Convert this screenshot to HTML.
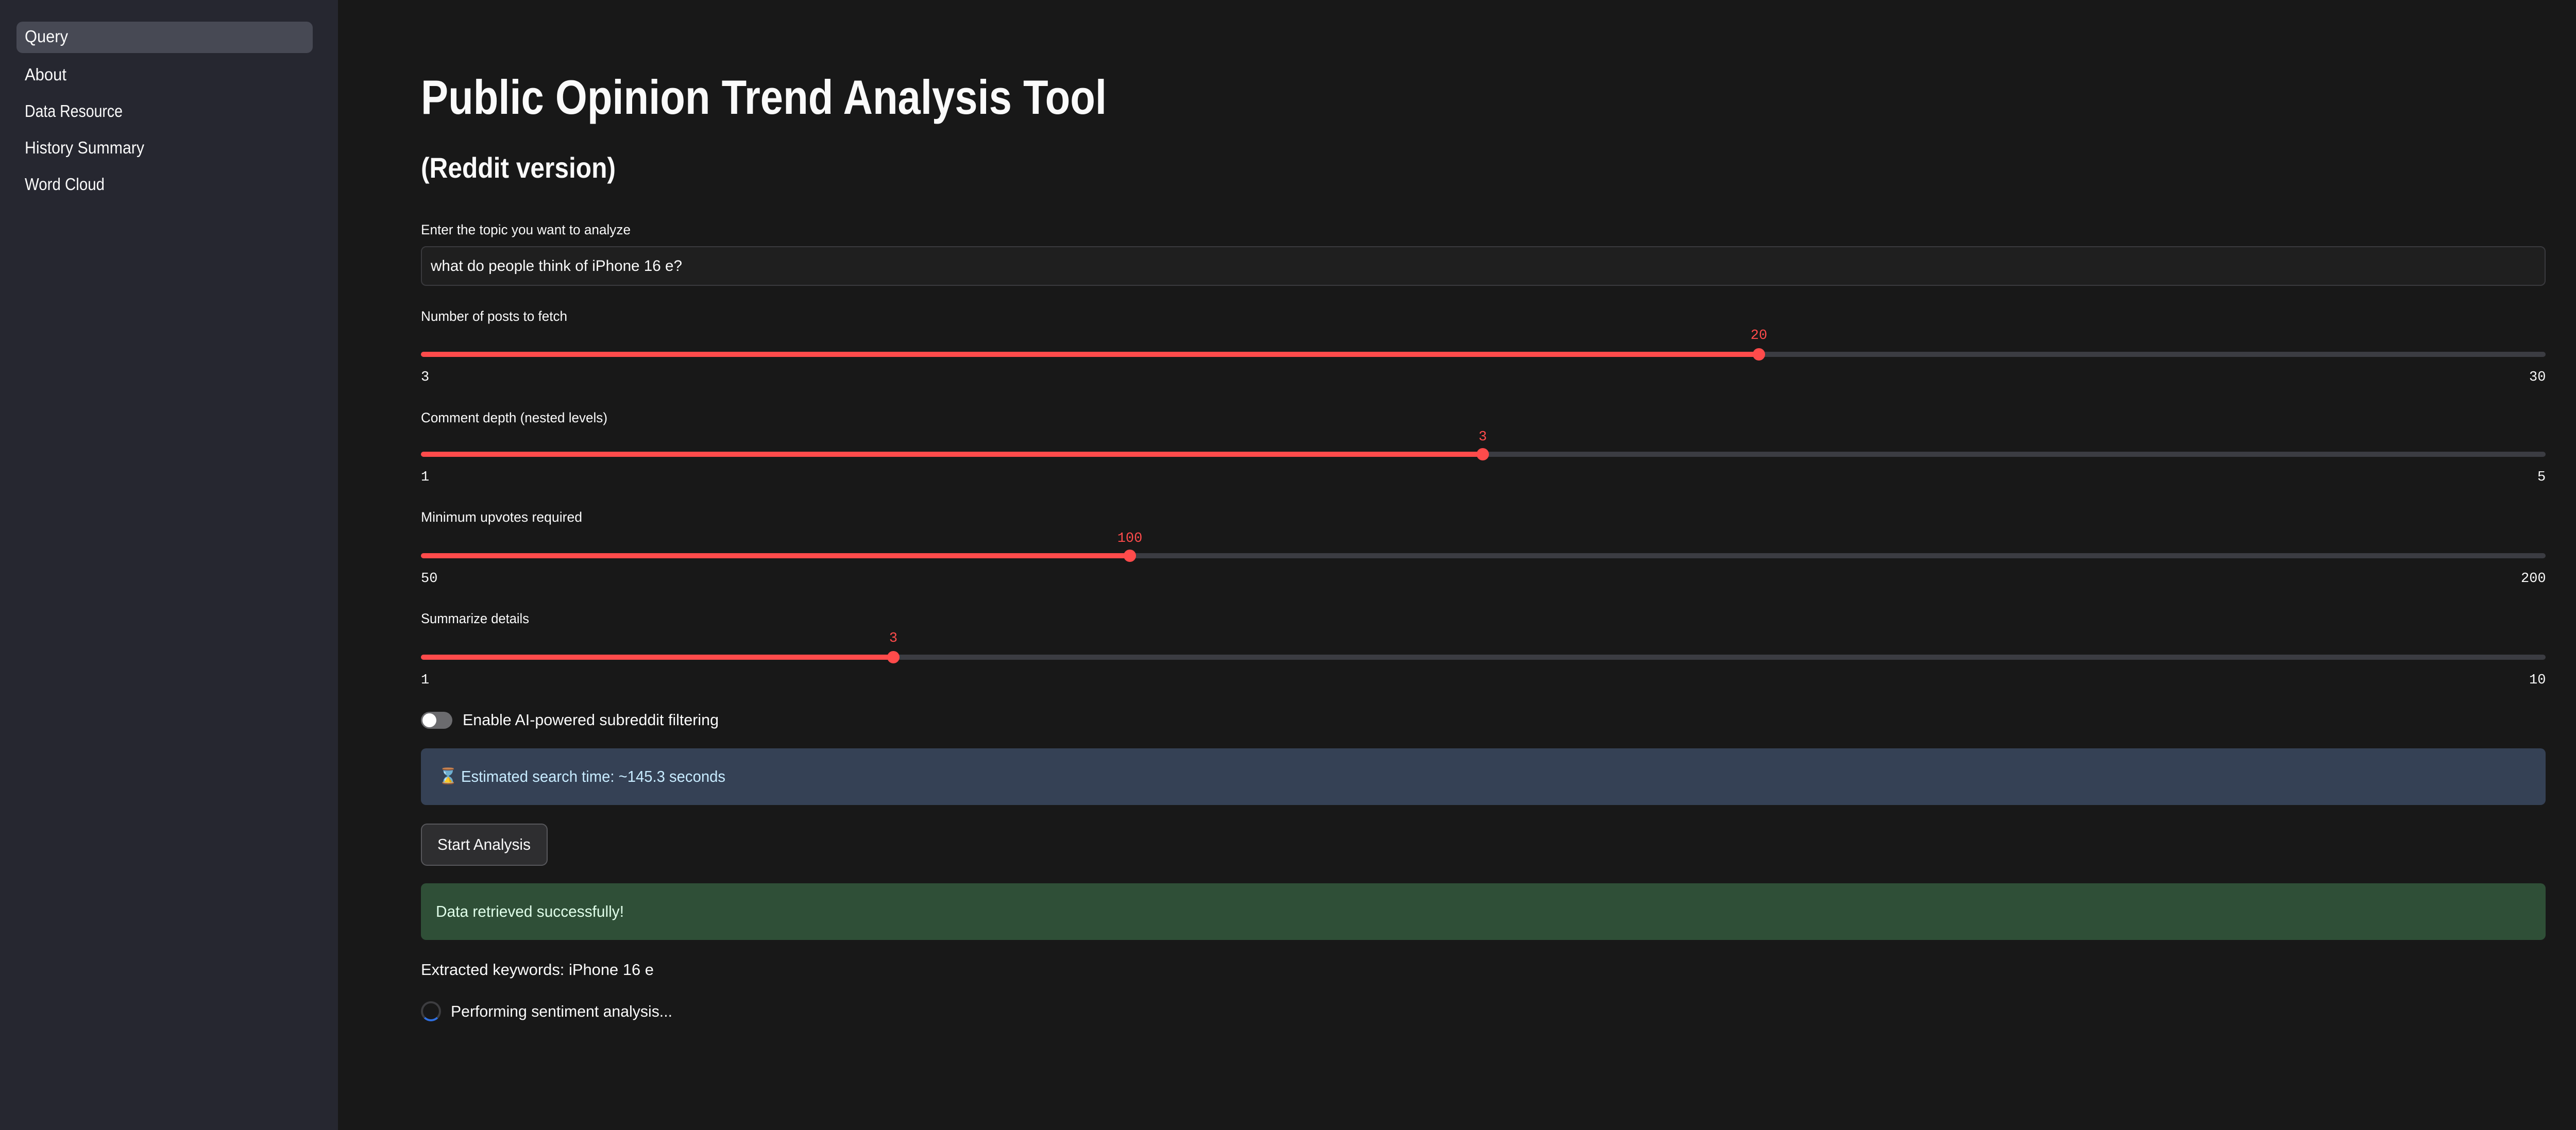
<!DOCTYPE html>
<html><head><meta charset="utf-8"><style>
html,body{margin:0;padding:0;}
body{width:5064px;height:2194px;background:#181818;position:relative;overflow:hidden;font-family:"Liberation Sans",sans-serif;color:#fafafa;}
.a{position:absolute;white-space:nowrap;}
.t{display:inline-block;transform-origin:0 50%;}
#sidebar{position:absolute;left:0;top:0;width:656px;height:2194px;background:#262730;}
.nav{position:absolute;left:48px;height:50px;line-height:50px;font-size:33px;color:#fafafa;}
.lbl{font-size:27px;height:40px;line-height:40px;color:#fafafa;}
.track{position:absolute;height:10px;border-radius:5px;background:#3b3c42;left:817px;width:4124px;}
.fill{position:absolute;left:0;top:0;height:10px;border-radius:5px;background:#ff4b4b;}
.thumb{position:absolute;width:24px;height:24px;border-radius:50%;background:#ff4b4b;top:-7px;margin-left:-12px;}
.mono{font-family:"Liberation Mono",monospace;font-size:27px;height:36px;line-height:36px;}
.red{color:#ff4b4b;}
</style></head><body>
<div id="sidebar">
  <div class="a" style="left:32px;top:42px;width:575px;height:61px;background:#474954;border-radius:12px;"></div>
  <div class="nav a" style="top:46px;"><span class="t" data-tw="84">Query</span></div>
  <div class="nav a" style="top:120px;"><span class="t" data-tw="81">About</span></div>
  <div class="nav a" style="top:191px;"><span class="t" data-tw="190">Data Resource</span></div>
  <div class="nav a" style="top:262px;"><span class="t" data-tw="232">History Summary</span></div>
  <div class="nav a" style="top:333px;"><span class="t" data-tw="155">Word Cloud</span></div>
</div>

<div class="a" style="left:817px;top:134px;height:110px;line-height:110px;font-size:94px;font-weight:bold;"><span class="t" data-tw="1331">Public Opinion Trend Analysis Tool</span></div>
<div class="a" style="left:817px;top:291px;height:70px;line-height:70px;font-size:56px;font-weight:bold;"><span class="t" data-tw="378">(Reddit version)</span></div>

<div class="a lbl" style="left:817px;top:426px;"><span class="t" data-tw="407">Enter the topic you want to analyze</span></div>
<div class="a" style="left:817px;top:478px;width:4120px;height:73px;background:#1f1f1f;border:2px solid #3a3a3e;border-radius:10px;"></div>
<div class="a" style="left:836px;top:497px;height:40px;line-height:40px;font-size:30px;"><span class="t" data-tw="488">what do people think of iPhone 16 e?</span></div>

<!-- slider 1 -->
<div class="a lbl" style="left:817px;top:594px;"><span class="t" data-tw="284">Number of posts to fetch</span></div>
<div class="track" style="top:683px;"><div class="fill" style="width:2597px;"></div><div class="thumb" style="left:2597px;"></div></div>
<div class="a mono red" style="left:3414px;top:634px;transform:translateX(-50%);">20</div>
<div class="a mono" style="left:817px;top:715px;">3</div>
<div class="a mono" style="left:4909px;top:715px;">30</div>

<!-- slider 2 -->
<div class="a lbl" style="left:817px;top:791px;"><span class="t" data-tw="362">Comment depth (nested levels)</span></div>
<div class="track" style="top:877px;"><div class="fill" style="width:2061px;"></div><div class="thumb" style="left:2061px;"></div></div>
<div class="a mono red" style="left:2878px;top:831px;transform:translateX(-50%);">3</div>
<div class="a mono" style="left:817px;top:909px;">1</div>
<div class="a mono" style="left:4925px;top:909px;">5</div>

<!-- slider 3 -->
<div class="a lbl" style="left:817px;top:984px;"><span class="t" data-tw="313">Minimum upvotes required</span></div>
<div class="track" style="top:1074px;"><div class="fill" style="width:1376px;"></div><div class="thumb" style="left:1376px;"></div></div>
<div class="a mono red" style="left:2193px;top:1028px;transform:translateX(-50%);">100</div>
<div class="a mono" style="left:817px;top:1106px;">50</div>
<div class="a mono" style="left:4893px;top:1106px;">200</div>

<!-- slider 4 -->
<div class="a lbl" style="left:817px;top:1181px;"><span class="t" data-tw="210">Summarize details</span></div>
<div class="track" style="top:1271px;"><div class="fill" style="width:917px;"></div><div class="thumb" style="left:917px;"></div></div>
<div class="a mono red" style="left:1734px;top:1222px;transform:translateX(-50%);">3</div>
<div class="a mono" style="left:817px;top:1303px;">1</div>
<div class="a mono" style="left:4909px;top:1303px;">10</div>

<!-- toggle -->
<div class="a" style="left:817px;top:1382px;width:61px;height:33px;border-radius:17px;background:#6b6b6e;"><div style="position:absolute;left:3px;top:3px;width:27px;height:27px;border-radius:50%;background:#fff;"></div></div>
<div class="a" style="left:898px;top:1378px;height:40px;line-height:40px;font-size:31px;"><span class="t" data-tw="497">Enable AI-powered subreddit filtering</span></div>

<!-- info -->
<div class="a" style="left:817px;top:1453px;width:4124px;height:110px;background:#354155;border-radius:10px;"></div>
<div class="a" style="left:851px;top:1488px;height:40px;line-height:40px;font-size:30px;color:#c9a27a;">⌛</div>
<div class="a" style="left:895px;top:1488px;height:40px;line-height:40px;font-size:31px;color:#c7ebff;"><span class="t" data-tw="513">Estimated search time: ~145.3 seconds</span></div>

<!-- button -->
<div class="a" style="left:817px;top:1599px;width:242px;height:78px;background:#2e2e30;border:2px solid #58585c;border-radius:12px;"></div>
<div class="a" style="left:849px;top:1620px;height:40px;line-height:40px;font-size:31px;"><span class="t" data-tw="181">Start Analysis</span></div>

<!-- success -->
<div class="a" style="left:817px;top:1715px;width:4124px;height:110px;background:#2f4f37;border-radius:10px;"></div>
<div class="a" style="left:846px;top:1750px;height:40px;line-height:40px;font-size:31px;color:#dffde9;"><span class="t" data-tw="365">Data retrieved successfully!</span></div>

<div class="a" style="left:817px;top:1863px;height:40px;line-height:40px;font-size:31px;"><span class="t" data-tw="452">Extracted keywords: iPhone 16 e</span></div>

<div class="a" style="left:817px;top:1944px;width:31px;height:31px;border-radius:50%;border:4px solid #3d3d40;border-bottom-color:#2f6fe0;"></div>
<div class="a" style="left:875px;top:1944px;height:40px;line-height:40px;font-size:31px;"><span class="t" data-tw="430">Performing sentiment analysis...</span></div>

<script>
document.querySelectorAll('.t[data-tw]').forEach(function(s){
  var w=s.getBoundingClientRect().width, tw=parseFloat(s.getAttribute('data-tw'));
  if(w>0) s.style.transform='scaleX('+(tw/w)+')';
});
</script>
</body></html>
